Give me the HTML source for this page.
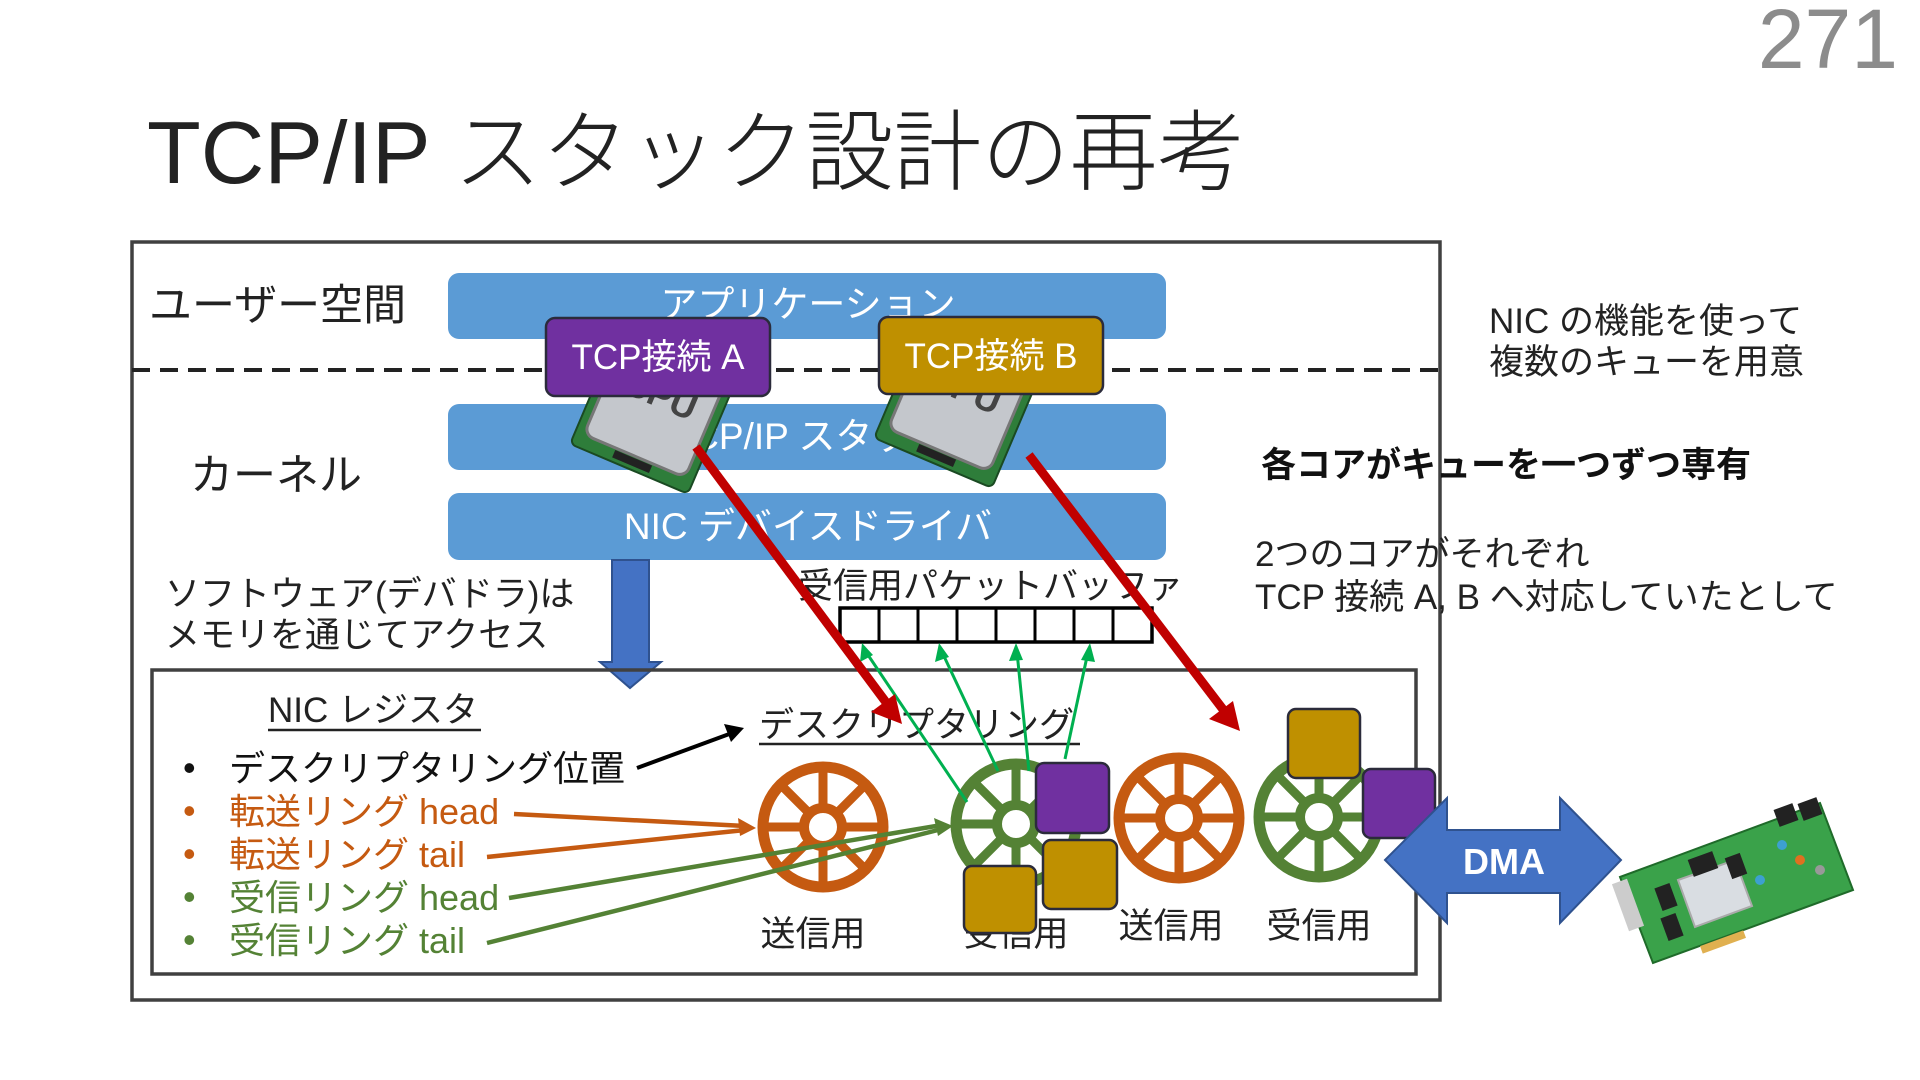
<!DOCTYPE html>
<html><head><meta charset="utf-8"><style>
html,body{margin:0;padding:0;background:#fff;width:1920px;height:1080px;overflow:hidden}
svg text{font-family:"Liberation Sans","Noto Sans CJK JP",sans-serif}
</style></head><body>
<svg width="1920" height="1080" viewBox="0 0 1920 1080" xmlns="http://www.w3.org/2000/svg">
<defs>
<g id="wheel"><circle r="60" fill="none" stroke-width="11"/><circle r="19" fill="none" stroke-width="10"/>
<g stroke-width="9"><line x1="19" y1="0" x2="60" y2="0"/><line x1="-19" y1="0" x2="-60" y2="0"/><line x1="0" y1="19" x2="0" y2="60"/><line x1="0" y1="-19" x2="0" y2="-60"/>
<line x1="13" y1="13" x2="42" y2="42"/><line x1="-13" y1="13" x2="-42" y2="42"/><line x1="13" y1="-13" x2="42" y2="-42"/><line x1="-13" y1="-13" x2="-42" y2="-42"/></g></g>
<g id="cpu"><rect x="-64" y="-64" width="128" height="128" rx="6" fill="#2e7d3a" stroke="#1a4a22" stroke-width="2"/>
<rect x="-55" y="-58" width="110" height="108" rx="10" fill="#c4c7cc" stroke="#777" stroke-width="3"/>
<text x="0" y="-4" font-size="36" font-weight="bold" fill="#444" text-anchor="middle">CPU</text>
<rect x="-20" y="52" width="40" height="8" fill="#222"/></g>
</defs>

<text x="1898" y="68" font-size="84" fill="#8c8c8c" text-anchor="end" font-weight="300">271</text>
<text x="147" y="183" font-size="88" fill="#222" font-weight="300">TCP/IP スタック設計の再考</text>

<rect x="132" y="242" width="1308" height="758" fill="none" stroke="#404040" stroke-width="3.5"/>
<line x1="132" y1="370" x2="1440" y2="370" stroke="#222" stroke-width="4" stroke-dasharray="18,10"/>
<text x="149" y="320" font-size="43" fill="#222">ユーザー空間</text>
<text x="190" y="490" font-size="43" fill="#222">カーネル</text>

<rect x="448" y="273" width="718" height="66" rx="11" fill="#5b9bd5"/>
<text x="808" y="317" font-size="37" fill="#fff" text-anchor="middle">アプリケーション</text>
<rect x="448" y="404" width="718" height="66" rx="11" fill="#5b9bd5"/>
<text x="808" y="449" font-size="37" fill="#fff" text-anchor="middle">TCP/IP スタック</text>
<rect x="448" y="493" width="718" height="67" rx="11" fill="#5b9bd5"/>
<text x="808" y="539" font-size="37" fill="#fff" text-anchor="middle">NIC デバイスドライバ</text>

<g transform="translate(654,410) rotate(23)"><use href="#cpu"/></g>
<g transform="translate(958,404) rotate(23)"><use href="#cpu"/></g>

<rect x="546" y="318" width="224" height="78" rx="9" fill="#7030a0" stroke="#2b2b3b" stroke-width="2.5"/>
<text x="658" y="369" font-size="35" fill="#fff" text-anchor="middle">TCP接続 A</text>
<rect x="879" y="317" width="224" height="77" rx="9" fill="#bf9000" stroke="#2b2b3b" stroke-width="2.5"/>
<text x="991" y="368" font-size="35" fill="#fff" text-anchor="middle">TCP接続 B</text>

<polygon points="612,560 649,560 649,662 661,662 630,688 600,662 612,662" fill="#4472c4" stroke="#2f528f" stroke-width="2"/>
<text x="165" y="606" font-size="35" fill="#222">ソフトウェア(デバドラ)は</text>
<text x="165" y="647" font-size="35" fill="#222">メモリを通じてアクセス</text>

<text x="798" y="598" font-size="35" fill="#222">受信用パケットバッファ</text>
<rect x="840" y="608" width="312" height="34" fill="#fff" stroke="#000" stroke-width="3.5"/>
<g stroke="#000" stroke-width="3"><line x1="879" y1="608" x2="879" y2="642"/><line x1="918" y1="608" x2="918" y2="642"/><line x1="957" y1="608" x2="957" y2="642"/><line x1="996" y1="608" x2="996" y2="642"/><line x1="1035" y1="608" x2="1035" y2="642"/><line x1="1074" y1="608" x2="1074" y2="642"/><line x1="1113" y1="608" x2="1113" y2="642"/></g>

<text x="1489" y="333" font-size="35" fill="#222">NIC の機能を使って</text>
<text x="1489" y="374" font-size="35" fill="#222">複数のキューを用意</text>
<text x="1261" y="477" font-size="35" fill="#111" font-weight="bold">各コアがキューを一つずつ専有</text>
<text x="1255" y="566" font-size="35" fill="#222">2つのコアがそれぞれ</text>
<text x="1255" y="609" font-size="35" fill="#222">TCP 接続 A, B へ対応していたとして</text>

<rect x="152" y="670" width="1264" height="304" fill="none" stroke="#404040" stroke-width="3.5"/>
<text x="268" y="722" font-size="35" fill="#222">NIC レジスタ</text>
<line x1="268" y1="730" x2="481" y2="730" stroke="#222" stroke-width="2.5"/>
<text x="759" y="737" font-size="35" fill="#222">デスクリプタリング</text>
<line x1="759" y1="744" x2="1080" y2="744" stroke="#222" stroke-width="2.5"/>

<g font-size="36">
<text x="183" y="780" fill="#111">•</text><text x="229" y="781" fill="#111">デスクリプタリング位置</text>
<text x="183" y="823" fill="#c55a11">•</text><text x="229" y="824" fill="#c55a11">転送リング head</text>
<text x="183" y="866" fill="#c55a11">•</text><text x="229" y="867" fill="#c55a11">転送リング tail</text>
<text x="183" y="909" fill="#548235">•</text><text x="229" y="910" fill="#548235">受信リング head</text>
<text x="183" y="952" fill="#548235">•</text><text x="229" y="953" fill="#548235">受信リング tail</text>
</g>
<line x1="637" y1="768" x2="732" y2="733" stroke="#000" stroke-width="4"/>
<polygon points="744,728 724,724 731,742" fill="#000"/>

<g stroke="#c55a11" fill="none"><use href="#wheel" x="823" y="827"/><use href="#wheel" x="1179" y="818"/></g>
<g stroke="#548235" fill="none"><use href="#wheel" x="1016" y="824"/><use href="#wheel" x="1319" y="817"/></g>

<g stroke-width="4.5" fill="none">
<line x1="514" y1="814" x2="745" y2="826" stroke="#c55a11"/>
<line x1="487" y1="857" x2="745" y2="830" stroke="#c55a11"/>
<line x1="509" y1="898" x2="942" y2="825" stroke="#548235"/>
<line x1="487" y1="943" x2="942" y2="829" stroke="#548235"/>
</g>
<polygon points="756,828 738,818 740,836" fill="#c55a11"/>
<polygon points="953,826 934,818 938,836" fill="#548235"/>

<g stroke="#00b050" stroke-width="3"><line x1="967" y1="802" x2="866" y2="652"/><line x1="998" y1="771" x2="942" y2="652"/><line x1="1029" y1="771" x2="1017" y2="652"/><line x1="1065" y1="759" x2="1088" y2="652"/></g>
<g fill="#00b050"><polygon points="862,643 860,662 873,655"/><polygon points="939,643 935,662 949,657"/><polygon points="1016,643 1009,661 1023,660"/><polygon points="1090,643 1081,660 1095,662"/></g>

<g font-size="35" fill="#222" text-anchor="middle">
<text x="813" y="946">送信用</text><text x="1016" y="946">受信用</text><text x="1171" y="938">送信用</text><text x="1319" y="938">受信用</text>
</g>

<g stroke="#2b2b3b" stroke-width="2.5">
<rect x="1036" y="763" width="73" height="70" rx="8" fill="#7030a0"/>
<rect x="1043" y="840" width="74" height="69" rx="8" fill="#bf9000"/>
<rect x="964" y="866" width="72" height="67" rx="8" fill="#bf9000"/>
<rect x="1288" y="709" width="72" height="69" rx="8" fill="#bf9000"/>
<rect x="1363" y="769" width="72" height="69" rx="8" fill="#7030a0"/>
</g>

<g stroke="#c00000" stroke-width="9"><line x1="696" y1="447" x2="888" y2="705"/><line x1="1029" y1="455" x2="1225" y2="712"/></g>
<polygon points="902,724 871,712 895,694" fill="#c00000"/>
<polygon points="1240,731 1209,719 1233,701" fill="#c00000"/>

<polygon points="1385,860 1447,798 1447,830 1560,830 1560,798 1621,860 1560,923 1560,893 1447,893 1447,923" fill="#4472c4" stroke="#2f528f" stroke-width="2"/>
<text x="1504" y="874" font-size="36" font-weight="bold" fill="#fff" text-anchor="middle">DMA</text>

<g>
<polygon points="1620,877 1820,803 1853,890 1653,963" fill="#3aa24a" stroke="#1f6b2a" stroke-width="2"/>
<polygon points="1678,880 1735,860 1752,906 1695,927" fill="#d9dde2" stroke="#aaa" stroke-width="2"/>
<rect x="1776" y="806" width="20" height="18" fill="#222" transform="rotate(-20 1786 815)"/>
<rect x="1800" y="800" width="20" height="18" fill="#222" transform="rotate(-20 1810 809)"/>
<rect x="1690" y="855" width="26" height="18" fill="#222" transform="rotate(-20 1703 864)"/>
<rect x="1658" y="885" width="16" height="24" fill="#222" transform="rotate(-20 1666 897)"/>
<rect x="1664" y="915" width="16" height="24" fill="#222" transform="rotate(-20 1672 927)"/>
<rect x="1728" y="855" width="16" height="22" fill="#222" transform="rotate(-20 1736 866)"/>
<rect x="1620" y="880" width="16" height="50" fill="#ccc" transform="rotate(-20 1628 905)"/>
<rect x="1700" y="938" width="46" height="8" fill="#e0b050" transform="rotate(-20 1723 942)"/>
<circle cx="1782" cy="845" r="5" fill="#3da0d0"/><circle cx="1800" cy="860" r="5" fill="#e07020"/><circle cx="1760" cy="880" r="5" fill="#3da0d0"/><circle cx="1820" cy="870" r="5" fill="#999"/>
</g>
</svg>
</body></html>
